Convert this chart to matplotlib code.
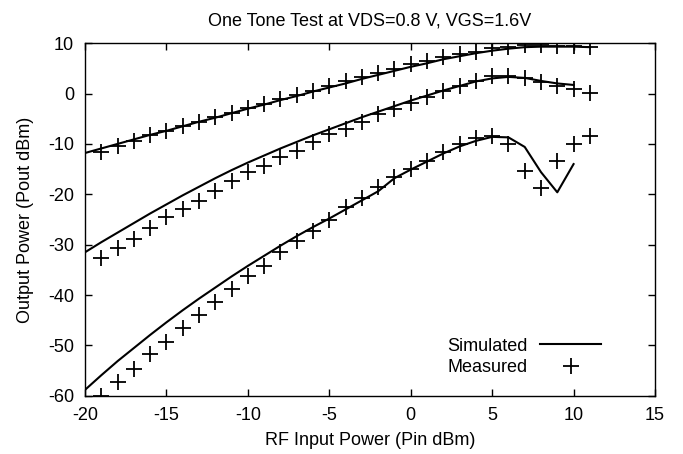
import matplotlib
matplotlib.use("Agg")
import matplotlib.pyplot as plt

# input power axis (dBm)
pin_meas = list(range(-19, 12))
pin_sim_hi = list(range(-20, 12))
pin_sim_mid = list(range(-20, 11))
pin_sim_lo = list(range(-20, 11))

# measured output power, three bias/tone traces
meas_hi = [-11.6, -10.4, -9.4, -8.3, -7.4, -6.5, -5.6, -4.7, -3.8, -2.8,
           -2.0, -1.1, -0.2, 0.6, 1.4, 2.4, 3.2, 4.1, 4.9, 5.8,
           6.5, 7.2, 7.8, 8.3, 9.0, 9.3, 9.6, 9.6, 9.4, 9.4, 9.3]
meas_mid = [-32.7, -30.7, -28.9, -26.7, -24.5, -22.9, -21.3, -19.4, -17.4, -15.6,
            -14.4, -12.6, -11.4, -9.6, -8.1, -7.1, -5.6, -4.1, -3.1, -1.9,
            -0.7, 0.5, 1.5, 2.5, 3.4, 3.5, 3.1, 2.3, 1.5, 0.9, 0.2]
meas_lo = [-60.0, -57.3, -54.7, -51.7, -49.3, -46.5, -44.0, -41.4, -38.8, -36.2,
           -34.2, -31.5, -29.2, -27.3, -25.0, -22.5, -20.8, -18.6, -16.6, -15.0,
           -13.4, -11.7, -10.1, -8.8, -8.5, -10.1, -15.4, -18.8, -13.4, -10.1, -8.4]

# simulated output power
sim_hi = [-11.8, -10.9, -10.0, -9.1, -8.2, -7.4, -6.5, -5.6, -4.8, -3.9,
          -3.0, -2.2, -1.3, -0.5, 0.4, 1.2, 2.0, 2.9, 3.7, 4.5,
          5.3, 6.0, 6.8, 7.4, 8.0, 8.5, 8.9, 9.2, 9.3, 9.3, 9.3, 9.2]
sim_mid = [-31.5, -29.5, -27.6, -25.7, -23.8, -22.0, -20.2, -18.5, -16.8, -15.2,
           -13.7, -12.3, -10.9, -9.6, -8.3, -7.1, -5.9, -4.7, -3.6, -2.5,
           -1.4, -0.4, 0.6, 1.5, 2.4, 3.0, 3.3, 3.1, 2.5, 2.0, 1.7]
sim_lo = [-58.8, -55.9, -53.1, -50.5, -47.9, -45.4, -43.0, -40.7, -38.5, -36.3,
          -34.2, -32.2, -30.2, -28.3, -26.5, -24.8, -23.0, -21.2, -19.4, -16.8,
          -15.1, -13.5, -11.9, -10.5, -9.4, -8.6, -8.7, -10.6, -15.6, -19.6, -14.0]

plt.rcParams["font.family"] = ["Liberation Sans", "DejaVu Sans"]
plt.rcParams["font.size"] = 13
plt.rcParams["axes.unicode_minus"] = False

fig = plt.figure(figsize=(6.83, 4.54), dpi=100)
ax = fig.add_axes([0.1245, 0.128, 0.8345, 0.777])

lw = 1.5
ax.plot(pin_sim_hi, sim_hi, color="black", lw=lw, label="Simulated")
ax.plot(pin_sim_mid, sim_mid, color="black", lw=lw)
ax.plot(pin_sim_lo, sim_lo, color="black", lw=lw)

mk = dict(ls="none", marker="+", ms=11, mew=1.3, color="black")
ax.plot(pin_meas, meas_hi, label="Measured", **mk)
ax.plot(pin_meas, meas_mid, **mk)
ax.plot(pin_meas, meas_lo, **mk)

ax.set_xlim(-20, 15)
ax.set_ylim(-60, 10)
ax.set_xticks(range(-20, 16, 5))
ax.set_yticks(range(-60, 11, 10))
ax.tick_params(direction="in", length=5, width=1, top=True, right=True)
ax.tick_params(axis="x", pad=8)
ax.tick_params(axis="y", pad=8)
for s in ax.spines.values():
    s.set_linewidth(1)

ax.set_title("One Tone Test at VDS=0.8 V, VGS=1.6V", fontsize=13, pad=13)
ax.set_xlabel("RF Input Power (Pin dBm)", labelpad=6)
ax.set_ylabel("Output Power (Pout dBm)", labelpad=10)

ax.legend(frameon=False, markerfirst=False, loc="lower right",
          bbox_to_anchor=(0.928, 0.02), handlelength=3.4, handletextpad=0.7,
          labelspacing=0.25, borderpad=0.2)

fig.savefig("out.png", dpi=100)
